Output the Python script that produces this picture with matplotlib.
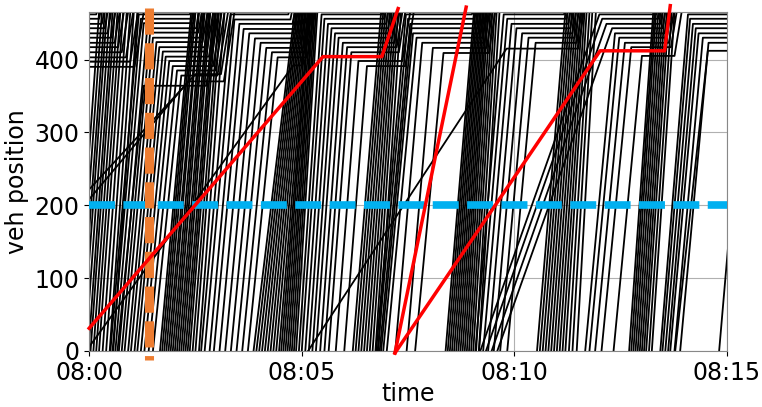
import matplotlib
matplotlib.use('Agg')
import matplotlib.pyplot as plt

# time in seconds after 08:00, position in metres along the link
link_end = 465

# vehicles that cross the link without stopping: time at position 0, time at link end
free_t0 = [-20, -16, -12, -9, -5, -1, 2, 6, 10, 14, 19, 24, 29, 34,
           100, 103, 106, 109, 112, 115, 118, 121, 124, 127, 130, 133, 136, 139, 142, 146, 150, 155,
           232, 236, 240, 244, 248, 252, 256, 260, 264, 268, 271, 274, 277, 280, 283, 286, 289, 292,
           372, 376, 380, 384, 388, 392, 396, 400, 404, 408,
           503, 506, 509, 512, 515, 518, 521, 524, 527, 530, 533, 536, 539, 542, 546, 550,
           632, 636, 640, 644, 648, 652, 656, 660, 664, 668, 672, 677, 682, 688,
           762, 765, 768, 771, 774, 777, 780, 783, 786, 790, 794,
           889]
free_t1 = [14, 18, 22, 25, 29, 33, 36, 40, 44, 48, 53, 58, 63, 68,
           144, 146, 148, 150, 154, 155, 159, 161, 163, 167, 169, 171, 175, 177, 179, 183, 186, 191,
           290, 292, 294, 296, 298, 300, 302, 304, 306, 308, 310, 311, 313, 315, 316, 318, 320, 322,
           412, 415, 418, 421, 424, 427, 430, 433, 436, 440,
           543, 545, 547, 549, 551, 553, 555, 557, 559, 561, 563, 566, 569, 572, 575, 579,
           672, 675, 678, 681, 684, 687, 690, 693, 696, 699, 702, 706, 710, 715,
           796, 798, 800, 803, 806, 809, 812, 815, 818, 822, 826,
           930]

# vehicles that stop in the queue: time at 0, stop time, stop position, release time, time at link end
q_t0 = [-100, -95, -90, -85, -80, -75, -70, -65, -60, -55, -50, -45,
        30, 33, 37, 42, 46, 50, 55, 59, 64, 68, 73, 78, 84, 90, 40, -210, -180,
        158, 163, 170, 176, 184, 192, 200, 208, 216, 224, -4,
        296, 300, 305, 310, 315, 320, 326, 332, 338, 348, 360,
        405, 407, 410, 412, 415, 420, 432, 448, 460,
        545, 550, 556, 563, 571, 580, 590, 309,
        552, 560, 568, 576, 700, 706, 714, 723, 740,
        806, 809, 813, 817, 820, 826, 834, 827]
q_ts = [-60, -55, -50, -45, -40, -35, -30, -25, -20, -15, -10, -5,
        70, 73, 77, 82, 86, 90, 95, 99, 104, 108, 113, 118, 124, 130, 77, 150, 140,
        200, 205, 212, 218, 226, 234, 242, 250, 258, 266, 288,
        328, 332, 337, 342, 347, 352, 358, 364, 370, 380, 392,
        447, 450, 453, 455, 457, 462, 470, 485, 500,
        585, 590, 596, 603, 611, 620, 630, 589,
        720, 724, 730, 738, 742, 748, 756, 765, 780,
        845, 848, 852, 856, 860, 866, 874, 873]
q_pos = [462, 456, 449, 443, 436, 430, 423, 417, 410, 403, 397, 390,
         462, 456, 450, 443, 437, 430, 424, 417, 411, 404, 398, 391, 385, 378, 364, 380, 370,
         462, 455, 449, 442, 436, 429, 423, 416, 410, 403, 392,
         462, 456, 449, 443, 436, 430, 423, 417, 410, 398, 391,
         462, 456, 449, 443, 436, 430, 423, 416, 409,
         462, 456, 449, 443, 436, 430, 423, 415,
         462, 456, 449, 443, 436, 430, 423, 417, 405,
         462, 456, 449, 443, 436, 430, 423, 412]
q_tg = [10, 14, 18, 22, 26, 31, 36, 41, 46, 52, 58, 64,
        142, 145, 148, 151, 154, 157, 160, 163, 166, 169, 172, 175, 178, 181, 165, 186, 190,
        281, 284, 287, 290, 293, 296, 299, 302, 305, 308, 300,
        413, 416, 419, 422, 425, 428, 431, 434, 437, 442, 446,
        540, 543, 546, 549, 552, 555, 558, 561, 564,
        670, 673, 676, 679, 682, 685, 688, 690,
        800, 803, 806, 809, 812, 815, 818, 821, 826,
        937, 940, 943, 946, 949, 952, 955, 958]
q_t1 = [11, 16, 21, 26, 31, 37, 43, 49, 55, 62, 69, 77,
        143, 147, 150, 155, 159, 163, 167, 171, 175, 179, 183, 187, 191, 196, 182, 200, 205,
        282, 286, 290, 294, 298, 302, 306, 310, 314, 318, 312,
        414, 418, 422, 426, 430, 434, 438, 442, 446, 453, 458,
        541, 545, 549, 553, 557, 561, 565, 569, 573,
        671, 675, 679, 683, 687, 691, 695, 698,
        801, 805, 809, 813, 817, 821, 825, 829, 836,
        938, 942, 946, 950, 954, 958, 962, 966]

# highlighted vehicles
red_t = [[0, 330, 413, 436], [431.5, 532], [431.5, 721, 812, 820]]
red_y = [[31, 404, 404, 470], [-3, 472], [-3, 412, 412, 474]]

detector_pos = 200
marker_time = 85

xticks = [0, 300, 600, 900]
xticklabels = ['08:00', '08:05', '08:10', '08:15']
yticks = [0, 100, 200, 300, 400]

fig, ax = plt.subplots(figsize=(7.62, 4.07), dpi=100)
fig.subplots_adjust(left=0.117, right=0.954, bottom=0.138, top=0.970)

for a, b in zip(free_t0, free_t1):
    ax.plot([a, b], [0, link_end], color='k', lw=1.3, zorder=2)

for a, s, p, g, e in zip(q_t0, q_ts, q_pos, q_tg, q_t1):
    ax.plot([a, s, g, e], [0, p, p, link_end], color='k', lw=1.3, zorder=2)

ax.plot([0, 900], [detector_pos, detector_pos], color='#00b0f0', lw=5.5,
        dashes=(3.4, 1.1), zorder=4)
ax.plot([marker_time, marker_time], [471, -12], color='#ed7d31', lw=6.5,
        dashes=(2.9, 0.95), zorder=4, clip_on=False)

for tt, yy in zip(red_t, red_y):
    ax.plot(tt, yy, color='red', lw=2.5, zorder=5, clip_on=False)

ax.set_xlim(0, 900)
ax.set_ylim(0, link_end)
ax.set_xticks(xticks)
ax.set_xticklabels(xticklabels)
ax.set_yticks(yticks)
ax.tick_params(labelsize=17)
ax.grid(True, color='#b0b0b0', lw=0.8)
ax.set_axisbelow(True)
for sp in ax.spines.values():
    sp.set_color('#888888')

ax.set_xlabel('time', fontsize=17, labelpad=-2)
ax.set_ylabel('veh position', fontsize=17, labelpad=4)

plt.savefig('out.png', dpi=100)
